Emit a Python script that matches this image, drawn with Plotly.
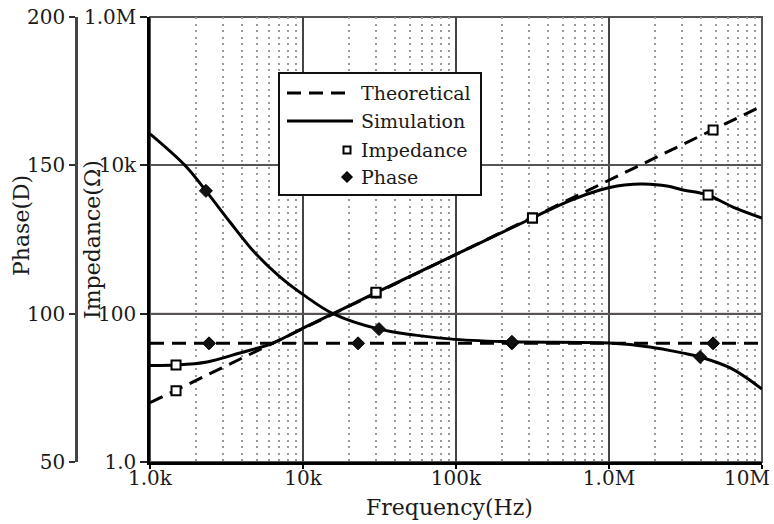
import plotly.graph_objects as go

# ---------------- data ----------------
freq_theory = [1e3, 1e4, 1e5, 1e6, 1e7]
z_theory = [6.3, 63, 630, 6300, 63000]
phase_theory = [90, 90, 90, 90, 90]

freq_sim_z = [1000, 1480, 2360, 3870, 6360, 10000, 20000, 30000, 100000, 316000,
              556000, 873000, 1130000, 1440000, 1670000, 2390000, 3050000,
              3940000, 4440000, 6460000, 10000000]
z_sim = [20, 20.3, 22.3, 29.5, 40.2, 64, 127, 192, 630, 1950,
         3350, 4650, 5260, 5560, 5600, 5260, 4650,
         4240, 3980, 2740, 1950]

freq_sim_ph = [1000, 1690, 2320, 3330, 4850, 7070, 10300, 15700, 31400, 91000,
               232000, 1000000, 1850000, 3050000, 3940000, 6200000, 10000000]
phase_sim = [160.6, 150, 141.4, 130.9, 120.5, 112.4, 106, 100, 94.8, 91.5,
             90.5, 90.1, 88.8, 86.7, 85.4, 81.7, 74.6]

# marker samples
zm_theory_f = [1480, 30000, 316000, 4790000]
zm_theory = [9.1, 190, 1950, 30000]
zm_sim_f = [1480, 30000, 316000, 4440000]
zm_sim = [20.3, 195, 1950, 3980]
pm_theory_f = [2430, 22900, 232000, 4790000]
pm_theory = [90, 90, 90, 90]
pm_sim_f = [2320, 31400, 232000, 3940000]
pm_sim = [141.4, 94.8, 90.5, 85.4]

x_tickvals = [1e3, 1e4, 1e5, 1e6, 1e7]
x_ticktext = ["1.0k", "10k", "100k", "1.0M", "10M"]
z_tickvals = [1, 100, 1e4, 1e6]
z_ticktext = ["1.0", "100", "10k", "1.0M"]
ph_tickvals = [50, 100, 150, 200]
ph_ticktext = ["50", "100", "150", "200"]

legend_labels = ["Theoretical", "Simulation", "Impedance", "Phase"]

# ---------------- figure ----------------
FONT = "DejaVu Serif"
TXT = "#1a1a1a"
W, H = 774, 524
ML, MR, MT, MB = 0, 12, 17, 62
PW, PH = W - ML - MR, H - MT - MB


def px(xp):
    return (xp - ML) / PW


def py(yp):
    return (H - MB - yp) / PH


fig = go.Figure()

dash_theory = "14px,8px"
LINEW = 3

fig.add_trace(go.Scatter(x=freq_theory, y=z_theory, mode="lines", yaxis="y",
                         line=dict(color="black", width=LINEW, dash=dash_theory),
                         showlegend=False))
fig.add_trace(go.Scatter(x=freq_theory, y=phase_theory, mode="lines", yaxis="y2",
                         line=dict(color="black", width=LINEW, dash=dash_theory),
                         showlegend=False))
fig.add_trace(go.Scatter(x=freq_sim_z, y=z_sim, mode="lines", yaxis="y",
                         line=dict(color="black", width=LINEW, shape="spline", smoothing=1.0),
                         showlegend=False))
fig.add_trace(go.Scatter(x=freq_sim_ph, y=phase_sim, mode="lines", yaxis="y2",
                         line=dict(color="black", width=LINEW, shape="spline", smoothing=1.0),
                         showlegend=False))

sq = dict(symbol="square", size=9, color="white", line=dict(color="black", width=2))
dm = dict(symbol="diamond", size=10, color="#111", line=dict(color="black", width=1))
fig.add_trace(go.Scatter(x=zm_theory_f, y=zm_theory, mode="markers", yaxis="y",
                         marker=sq, showlegend=False))
fig.add_trace(go.Scatter(x=zm_sim_f, y=zm_sim, mode="markers", yaxis="y",
                         marker=sq, showlegend=False))
fig.add_trace(go.Scatter(x=pm_theory_f, y=pm_theory, mode="markers", yaxis="y2",
                         marker=dm, showlegend=False))
fig.add_trace(go.Scatter(x=pm_sim_f, y=pm_sim, mode="markers", yaxis="y2",
                         marker=dm, showlegend=False))

minor_vals = [m * 10 ** e for e in range(3, 7) for m in range(2, 10)]

fig.update_layout(
    width=W, height=H,
    margin=dict(l=ML, r=MR, t=MT, b=MB, autoexpand=False),
    paper_bgcolor="white", plot_bgcolor="white",
    font=dict(family=FONT, size=20, color=TXT),
    showlegend=False,
    xaxis=dict(
        type="log", range=[3, 7], domain=[px(150), 1], automargin=False,
        tickmode="array", tickvals=x_tickvals,
        ticktext=x_ticktext[:-1] + [""],
        ticks="outside", ticklen=4, tickwidth=2, tickcolor="black",
        ticklabelstandoff=-8,
        showline=True, linecolor="black", linewidth=2.5,
        showgrid=True, gridcolor="#444", gridwidth=2,
        minor=dict(tickmode="array", tickvals=minor_vals, showgrid=True,
                   gridcolor="#9a9a9a", gridwidth=1.6, griddash="2px,4.5px",
                   ticks=""),
        tickfont=dict(size=20, family=FONT, color=TXT),
        zeroline=False,
    ),
    yaxis=dict(
        type="log", range=[0, 6], automargin=False,
        tickmode="array", tickvals=z_tickvals, ticktext=z_ticktext,
        ticks="outside", ticklen=7, tickwidth=2, tickcolor="#222",
        showline=True, linecolor="black", linewidth=2.5,
        showgrid=True, gridcolor="#555", gridwidth=1.6,
        tickfont=dict(size=20, family=FONT, color=TXT),
        zeroline=False,
    ),
    yaxis2=dict(
        range=[50, 200], overlaying="y", anchor="free", side="left",
        position=px(76), automargin=False,
        tickmode="array", tickvals=ph_tickvals, ticktext=ph_ticktext,
        ticks="outside", ticklen=6, tickwidth=2, tickcolor="#333",
        showline=True, linecolor="#444", linewidth=2.5,
        showgrid=False, zeroline=False,
        tickfont=dict(size=20, family=FONT, color=TXT),
    ),
)

shapes = []
# top / right frame
shapes.append(dict(type="rect", xref="x domain", yref="y domain", x0=0, x1=1, y0=0, y1=1,
                   line=dict(color="#555", width=2), layer="below"))
# reddish 100 line
shapes.append(dict(type="line", xref="x domain", yref="y", x0=0, x1=1, y0=100, y1=100,
                   line=dict(color="#957575", width=2), layer="below"))

# manual legend
lx0, lx1, ly0, ly1 = 279, 481, 73, 195
shapes.append(dict(type="rect", xref="paper", yref="paper",
                   x0=px(lx0), x1=px(lx1), y0=py(ly1), y1=py(ly0),
                   line=dict(color="#111", width=2), fillcolor="white", layer="above"))
row_y = [93, 121, 150, 177]
shapes.append(dict(type="line", xref="paper", yref="paper", x0=px(287), x1=px(353),
                   y0=py(row_y[0]), y1=py(row_y[0]),
                   line=dict(color="black", width=LINEW, dash=dash_theory), layer="above"))
shapes.append(dict(type="line", xref="paper", yref="paper", x0=px(287), x1=px(353),
                   y0=py(row_y[1]), y1=py(row_y[1]),
                   line=dict(color="black", width=LINEW), layer="above"))
mx = 347
shapes.append(dict(type="rect", xref="paper", yref="paper",
                   x0=px(mx - 3.5), x1=px(mx + 3.5), y0=py(row_y[2] + 3.5), y1=py(row_y[2] - 3.5),
                   line=dict(color="black", width=2), fillcolor="white", layer="above"))
d = 5
path = "M {},{} L {},{} L {},{} L {},{} Z".format(
    px(mx - d), py(row_y[3]), px(mx), py(row_y[3] - d),
    px(mx + d), py(row_y[3]), px(mx), py(row_y[3] + d))
shapes.append(dict(type="path", xref="paper", yref="paper", path=path,
                   line=dict(color="black", width=1.5), fillcolor="#111", layer="above"))

annotations = []
for lab, yy in zip(legend_labels, row_y):
    annotations.append(dict(text=lab, xref="paper", yref="paper", x=px(359), y=py(yy),
                            xanchor="left", yanchor="middle", showarrow=False,
                            font=dict(size=19, family=FONT, color=TXT)))

# last x tick label, pulled inside the page like the reference
annotations.append(dict(text=x_ticktext[-1], xref="x", yref="paper", x=7, y=py(478),
                        xanchor="right", yanchor="middle", xshift=10, showarrow=False,
                        font=dict(size=20, family=FONT, color=TXT)))

annotations.append(dict(text="Phase(D)", xref="paper", yref="paper", x=px(22), y=py(226),
                        textangle=-90, xanchor="center", yanchor="middle", showarrow=False,
                        font=dict(size=22, family=FONT, color=TXT)))
annotations.append(dict(text="Impedance(Ω)", xref="paper", yref="paper", x=px(93), y=py(240),
                        textangle=-90, xanchor="center", yanchor="middle", showarrow=False,
                        font=dict(size=22, family=FONT, color=TXT)))
annotations.append(dict(text="Frequency(Hz)", xref="paper", yref="paper", x=px(450), y=py(507),
                        xanchor="center", yanchor="middle", showarrow=False,
                        font=dict(size=22, family=FONT, color=TXT)))

fig.update_layout(shapes=shapes, annotations=annotations)

fig.write_html("out.html")
